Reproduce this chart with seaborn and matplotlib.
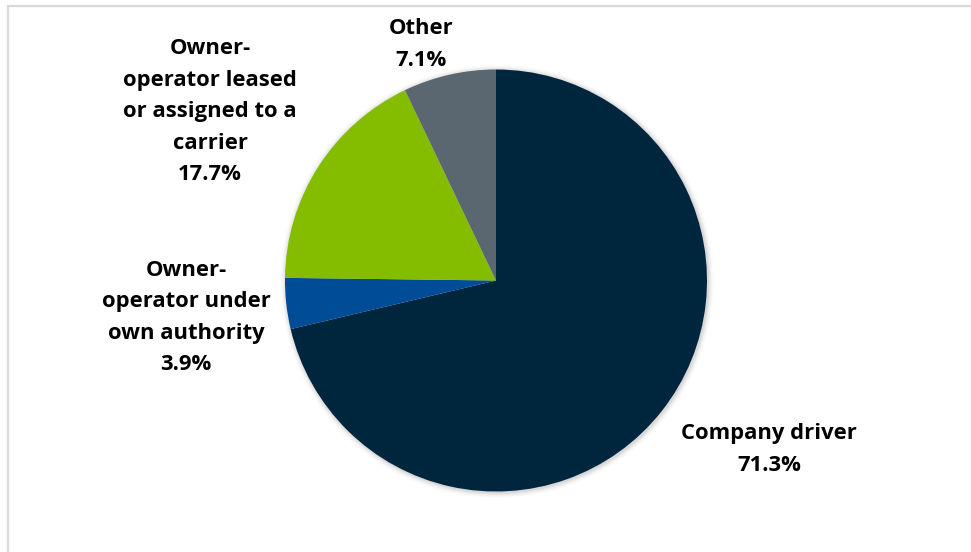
import matplotlib
matplotlib.use("Agg")
import matplotlib.pyplot as plt
from matplotlib.patches import Rectangle, Circle
import seaborn as sns

# Driver employment status shares (percent)
categories = [
    "Company driver",
    "Owner-operator under own authority",
    "Owner-operator leased or assigned to a carrier",
    "Other",
]
shares = [71.3, 3.9, 17.7, 7.1]
label_lines = [
    ["Company driver"],
    ["Owner-", "operator under", "own authority"],
    ["Owner-", "operator leased", "or assigned to a", "carrier"],
    ["Other"],
]
slice_colors = ["#00263E", "#004C97", "#84BD00", "#5B6770"]

sns.set_theme(style="white")
plt.rcParams["font.family"] = ["Open Sans", "DejaVu Sans"]

W, H = 971, 552
fig = plt.figure(figsize=(W / 100, H / 100), dpi=100)
ax = fig.add_axes([0, 0, 1, 1])

# chart frame (runs off the right and bottom edges)
fig.patches.append(Rectangle((7.5 / W, -0.1), 1.2, (H - 5.5) / H + 0.1,
                             transform=fig.transFigure, fill=False,
                             edgecolor="#D9D9D9", linewidth=1.6))

cx, cy, r = 496, H - 280.5, 211

# soft outer shadow
for i, a in enumerate([0.05, 0.04, 0.03, 0.02, 0.012]):
    ax.add_patch(Circle((cx + 1, cy - 1), r + 1 + i * 1.2, color="black",
                        alpha=a, linewidth=0, zorder=0))

palette = sns.color_palette(slice_colors)
ax.pie(shares, colors=palette, startangle=90, counterclock=False,
       center=(cx, cy), radius=r, frame=True,
       wedgeprops=dict(linewidth=0))

ax.set_xlim(0, W)
ax.set_ylim(0, H)
ax.set_aspect("equal")
ax.axis("off")

# label anchor points (centre x, first-line y in pixels from top)
anchors = [(769, 434), (186, 270), (210, 49), (421, 29)]
line_gap = 31.5
for lines, val, (x, y0) in zip(label_lines, shares, anchors):
    for k, txt in enumerate(lines + [f"{val:.1f}%"]):
        ax.text(x, H - (y0 + k * line_gap), txt, ha="center", va="center",
                fontsize=15.8, fontweight="bold", color="black")

fig.savefig("out.png", dpi=100, facecolor="white")
